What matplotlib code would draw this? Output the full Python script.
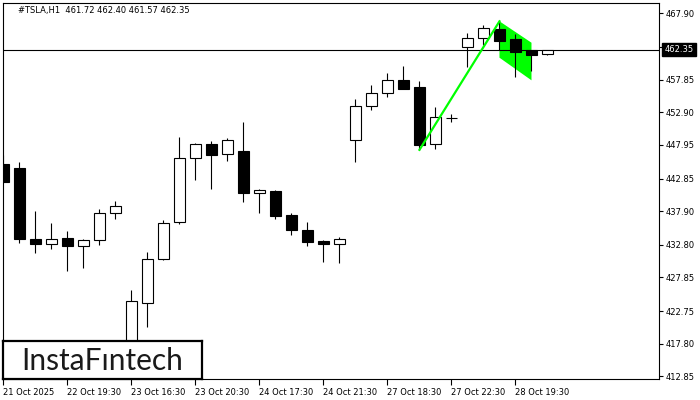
import matplotlib
matplotlib.use("Agg")
from matplotlib import pyplot as plt
from matplotlib.patches import Rectangle, Polygon
from matplotlib.transforms import blended_transform_factory

# H1 candles
opens = [445.05, 444.40, 433.67, 432.96, 433.82, 432.66, 433.47, 437.57, 416.50, 423.92,
         430.59, 436.20, 445.91, 448.08, 446.52, 447.02, 440.60, 440.95, 437.31, 435.04,
         433.32, 432.96, 448.64, 453.80, 455.77, 457.74, 456.68, 448.03, 452.02, 462.74,
         464.11, 465.52, 463.96, 462.33, 461.72]
highs = [446.41, 445.30, 437.92, 436.14, 434.89, 433.67, 438.22, 439.43, 425.94, 431.65,
         436.55, 449.19, 448.19, 448.49, 448.99, 451.42, 441.25, 441.10, 437.62, 436.25,
         433.47, 433.98, 454.90, 457.03, 458.85, 459.91, 457.59, 453.64, 452.58, 464.91,
         466.13, 466.69, 464.76, 462.40, 462.40]
lows = [442.20, 433.11, 431.60, 432.11, 428.87, 429.32, 432.81, 436.75, 414.80, 420.37,
        430.50, 436.00, 442.62, 441.30, 445.55, 439.33, 437.66, 436.75, 434.32, 432.66,
        430.23, 429.99, 445.40, 453.28, 455.25, 456.40, 447.20, 447.37, 451.42, 459.80,
        463.14, 462.30, 458.29, 459.15, 461.57]
closes = [442.32, 433.72, 432.96, 433.67, 432.66, 433.52, 437.62, 438.63, 424.22, 430.59,
          436.05, 445.91, 448.08, 446.46, 448.69, 440.69, 441.06, 437.21, 434.99, 433.26,
          432.96, 433.67, 453.80, 455.77, 457.74, 456.47, 447.97, 452.13, 452.02, 464.11,
          465.63, 463.74, 462.08, 461.62, 462.35]

# bearish flag: pole + flag body
pole_x = [26, 31]
pole_y = [447.20, 466.69]
flag_x = [31, 33, 33, 31]
flag_y = [466.69, 463.44, 457.74, 461.17]

last_price = 462.35
title = "#TSLA,H1  461.72 462.40 461.57 462.35"

y_ticks = [467.90, 462.85, 457.85, 452.90, 447.95, 442.85, 437.90, 432.80, 427.85, 422.75, 417.80, 412.85]
x_tick_pos = [0, 4, 8, 12, 16, 20, 24, 28, 32]
x_tick_labels = ["21 Oct 2025", "22 Oct 19:30", "23 Oct 16:30", "23 Oct 20:30", "24 Oct 17:30",
                 "24 Oct 21:30", "27 Oct 18:30", "27 Oct 22:30", "28 Oct 19:30"]

fig = plt.figure(figsize=(7, 4), dpi=100)
ax = fig.add_axes([2.7 / 700, 1 - 379.3 / 400, (659 - 2.7) / 700, (379.3 - 2.7) / 400])

green = "#00ff00"
# flag under the candles
ax.add_patch(Polygon(list(zip(flag_x, flag_y)), closed=True, facecolor=green, edgecolor="none", zorder=1))

# candles
w = 0.69
for i in range(len(opens)):
    o, h, l, c = opens[i], highs[i], lows[i], closes[i]
    ax.vlines(i, l, h, color="black", lw=0.8, zorder=2)
    bottom = min(o, c)
    height = abs(c - o)
    fc = "white" if c >= o else "black"
    if height < 0.05:
        ax.hlines(o, i - w / 2, i + w / 2, color="black", lw=0.8, zorder=3)
    else:
        ax.add_patch(Rectangle((i - w / 2, bottom), w, height, facecolor=fc,
                               edgecolor="black", lw=0.8, zorder=3))

ax.plot(pole_x, pole_y, color=green, lw=1.6, zorder=4)
ax.axhline(last_price, color="black", lw=0.8, zorder=2.2)

ax.set_xlim(-0.05, 40.97)
ax.set_ylim(412.4, 469.51)

# axes look
for s in ax.spines.values():
    s.set_linewidth(0.8)
ax.yaxis.tick_right()
ax.set_yticks(y_ticks)
ax.set_yticklabels(["%.2f" % v for v in y_ticks])
ax.set_xticks(x_tick_pos)
ax.set_xticklabels(x_tick_labels, ha="left")
ax.tick_params(axis="y", labelsize=6, length=3, width=0.8, pad=2)
ax.tick_params(axis="x", labelsize=6, length=4, width=0.8, pad=2)

# price tag on the right
tr = blended_transform_factory(ax.transAxes, ax.transData)
ax.text(1.0085, last_price, "%.2f" % last_price, transform=tr, color="white", fontsize=6,
        va="center", ha="left", clip_on=False, zorder=10,
        bbox=dict(boxstyle="square,pad=0.25", facecolor="black", edgecolor="black"))

fig.text(18 / 700, 1 - 11 / 400, title, fontsize=6, va="center", ha="left")

# logo box
lax = fig.add_axes([2.7 / 700, 1 - 379.3 / 400, 199 / 700, 38.3 / 400])
lax.set_xticks([])
lax.set_yticks([])
for s in lax.spines.values():
    s.set_linewidth(1.6)
lax.text(0.5, 0.47, "InstaF\u0131ntech", fontsize=21.5, family="Lato",
         color="#1a1a1a", ha="center", va="center", transform=lax.transAxes)

plt.savefig("out.png", dpi=100)
